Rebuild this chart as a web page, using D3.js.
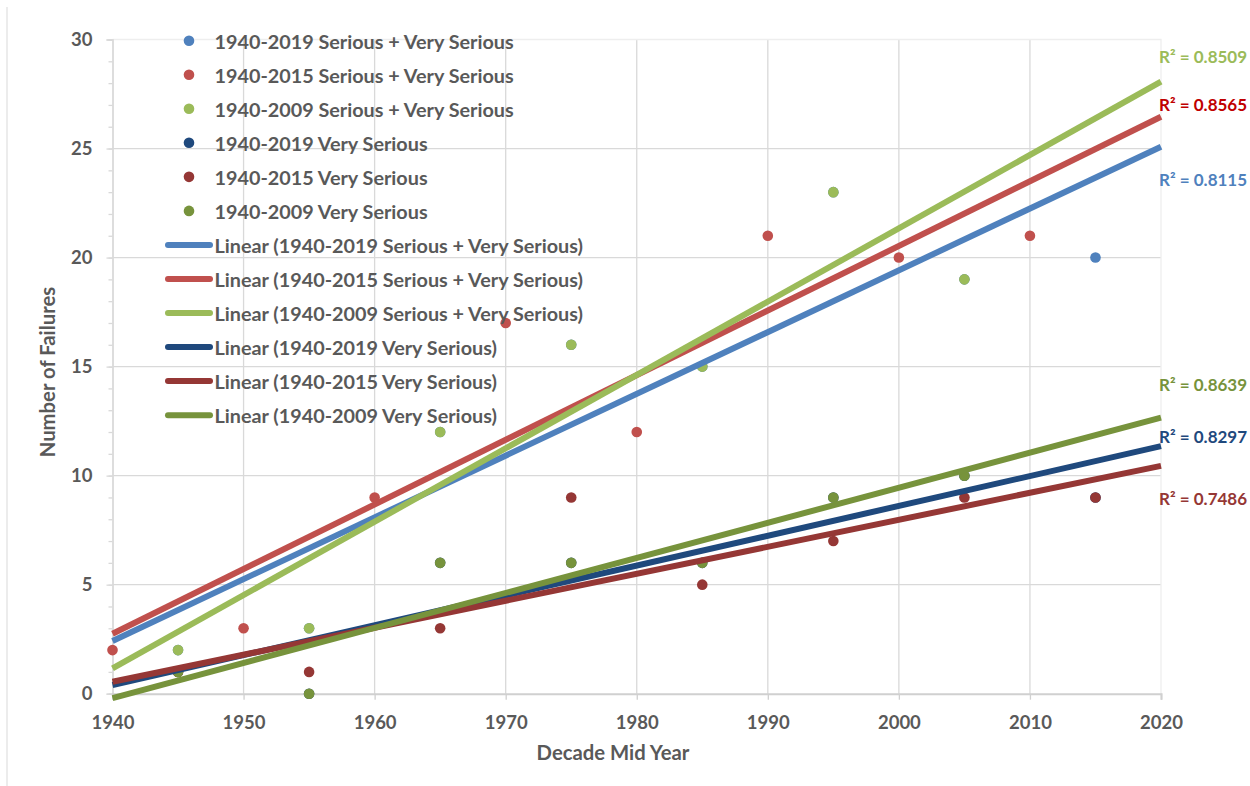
<!DOCTYPE html>
<html><head><meta charset="utf-8">
<script src="https://cdn.jsdelivr.net/npm/d3@7/dist/d3.min.js"></script>
<style>
body{margin:0;background:#fff}
svg{display:block}
text{font-family:Lato,"Open Sans",sans-serif;font-weight:bold}
</style>
</head><body>
<svg id="chart" width="1250" height="786"></svg>
<script>
// ---- data ----
const seriesNames = [
  "1940-2019 Serious + Very Serious",
  "1940-2015 Serious + Very Serious",
  "1940-2009 Serious + Very Serious",
  "1940-2019 Very Serious",
  "1940-2015 Very Serious",
  "1940-2009 Very Serious"
];
const years2019 = [1945, 1955, 1965, 1975, 1985, 1995, 2005, 2015];
const years2015 = [1940, 1950, 1960, 1970, 1980, 1990, 2000, 2010];
const years2009 = [1945, 1955, 1965, 1975, 1985, 1995, 2005];
const s2019 = [2, 3, 12, 16, 15, 23, 19, 20];
const s2015 = [2, 3, 9, 17, 12, 21, 20, 21];
const s2009 = [2, 3, 12, 16, 15, 23, 19];
const vs2019 = [1, 0, 6, 6, 6, 9, 10, 9];
const vs2015 = [1, 1, 3, 9, 5, 7, 9, 9];
const vs2009 = [1, 0, 6, 6, 6, 9, 10];
const seriesX = [years2019, years2015, years2009, years2019, years2019, years2009];
const seriesY = [s2019, s2015, s2009, vs2019, vs2015, vs2009];
// linear trendline values read at 1940 and 2020
const trendStart = [2.42, 2.75, 1.16, 0.40, 0.55, -0.20];
const trendEnd = [25.08, 26.46, 28.07, 11.35, 10.45, 12.66];
const r2Values = ["0.8115", "0.8565", "0.8509", "0.8297", "0.7486", "0.8639"];
const xTickValues = [1940, 1950, 1960, 1970, 1980, 1990, 2000, 2010, 2020];
const yTickValues = [0, 5, 10, 15, 20, 25, 30];
const xTitle = "Decade Mid Year";
const yTitle = "Number of Failures";

// ---- styles ----
const colors = ["#4F81BD", "#C0504D", "#9BBB59", "#1F497D", "#953735", "#77933C"];
const r2Colors = ["#4F81BD", "#C00000", "#9BBB59", "#1F497D", "#953735", "#77933C"];
const r2LabelPos = [23.6, 27.0, 29.2, 11.8, 8.95, 14.2]; // label anchor in y units
const textColor = "#595959";

const svg = d3.select("#chart");
const x = d3.scaleLinear().domain([1940, 2020]).range([112.5, 1161]);
const y = d3.scaleLinear().domain([0, 30]).range([693.7, 39.5]);

// chart area left border
svg.append("line").attr("x1", 7).attr("x2", 7).attr("y1", 7).attr("y2", 786)
  .attr("stroke", "#d9d9d9").attr("stroke-width", 1);

// gridlines
const grid = svg.append("g");
grid.selectAll(".hg").data(yTickValues.filter(v => v > 0 && v < 30)).join("line")
  .attr("x1", x(1940)).attr("x2", x(2020))
  .attr("y1", d => y(d)).attr("y2", d => y(d))
  .attr("stroke", "#d9d9d9").attr("stroke-width", 1.3);
grid.selectAll(".vg").data(xTickValues.filter(v => v > 1940 && v < 2020)).join("line")
  .attr("x1", d => x(d)).attr("x2", d => x(d))
  .attr("y1", y(30)).attr("y2", y(0))
  .attr("stroke", "#d9d9d9").attr("stroke-width", 1.3);
// plot area border top/right (faint)
grid.append("path")
  .attr("d", `M${x(1940)},${y(30)}H${x(2020)}V${y(0)}`)
  .attr("fill", "none").attr("stroke", "#eeeeee").attr("stroke-width", 1.3);

// axes
const yAxis = d3.axisLeft(y).tickValues(yTickValues).tickSize(6).tickPadding(14).tickFormat(d3.format("d"));
const yMinor = d3.axisLeft(y).tickValues(d3.range(0, 31, 1)).tickSize(4).tickFormat("");
const xAxis = d3.axisBottom(x).tickValues(xTickValues).tickSize(6).tickPadding(16).tickFormat(d3.format("d"));

const gyMinor = svg.append("g").attr("transform", `translate(${x(1940)},0)`).call(yMinor);
const gy = svg.append("g").attr("transform", `translate(${x(1940)},0)`).call(yAxis);
const gx = svg.append("g").attr("transform", `translate(0,${y(0)})`).call(xAxis);
[gy, gyMinor].forEach(g => {
  g.select(".domain").attr("stroke", "#d9d9d9").attr("stroke-width", 1.3);
  g.selectAll(".tick line").attr("stroke", "#d9d9d9").attr("stroke-width", 1.3);
});
gx.select(".domain").attr("stroke", "#d0d0d0").attr("stroke-width", 2);
gx.selectAll(".tick line").attr("stroke", "#d0d0d0").attr("stroke-width", 1.3);
[gy, gx].forEach(g => g.selectAll("text")
  .attr("fill", textColor).style("font-size", "18.5px").style("font-family", "Lato").style("font-weight", "bold"));
gx.selectAll("text").attr("dy", "0.71em");

// axis titles
svg.append("text").attr("x", 613).attr("y", 752)
  .attr("text-anchor", "middle").attr("dominant-baseline", "central")
  .attr("fill", textColor).style("font-size", "20.3px").text(xTitle);
svg.append("text").attr("transform", `translate(47,372) rotate(-90)`)
  .attr("text-anchor", "middle").attr("dominant-baseline", "central")
  .attr("fill", textColor).style("font-size", "20.3px").text(yTitle);

// points
const pts = svg.append("g");
seriesY.forEach((vals, i) => {
  pts.append("g").selectAll("circle").data(vals.map((v, j) => [seriesX[i][j], v])).join("circle")
    .attr("cx", d => x(d[0])).attr("cy", d => y(d[1])).attr("r", 5.3)
    .attr("fill", colors[i]);
});

// trendlines
const lines = svg.append("g");
trendStart.forEach((s, i) => {
  lines.append("line")
    .attr("x1", x(1940)).attr("y1", y(s))
    .attr("x2", x(2020)).attr("y2", y(trendEnd[i]))
    .attr("stroke", colors[i]).attr("stroke-width", 6);
});

// R² labels
const lab = svg.append("g");
r2Values.forEach((v, i) => {
  lab.append("text").attr("x", x(2020) - 2).attr("y", y(r2LabelPos[i]))
    .attr("dominant-baseline", "central").attr("fill", r2Colors[i]).style("font-size", "17px")
    .text("R² = " + v);
});

// legend
const legend = svg.append("g");
const legendItems = seriesNames.map((n, i) => ({ type: "marker", i, label: n }))
  .concat(seriesNames.map((n, i) => ({ type: "line", i, label: "Linear (" + n + ")" })));
legendItems.forEach((it, k) => {
  const cy = 40.7 + k * 34.04;
  if (it.type === "marker") {
    legend.append("circle").attr("cx", 189).attr("cy", cy).attr("r", 5.3).attr("fill", colors[it.i]);
  } else {
    legend.append("line").attr("x1", 168).attr("x2", 210).attr("y1", cy).attr("y2", cy)
      .attr("stroke", colors[it.i]).attr("stroke-width", 6).attr("stroke-linecap", "round");
  }
  legend.append("text").attr("x", 214.5).attr("y", cy).attr("dominant-baseline", "central")
    .attr("fill", textColor).style("font-size", "19.8px").text(it.label);
});
</script>
</body></html>
